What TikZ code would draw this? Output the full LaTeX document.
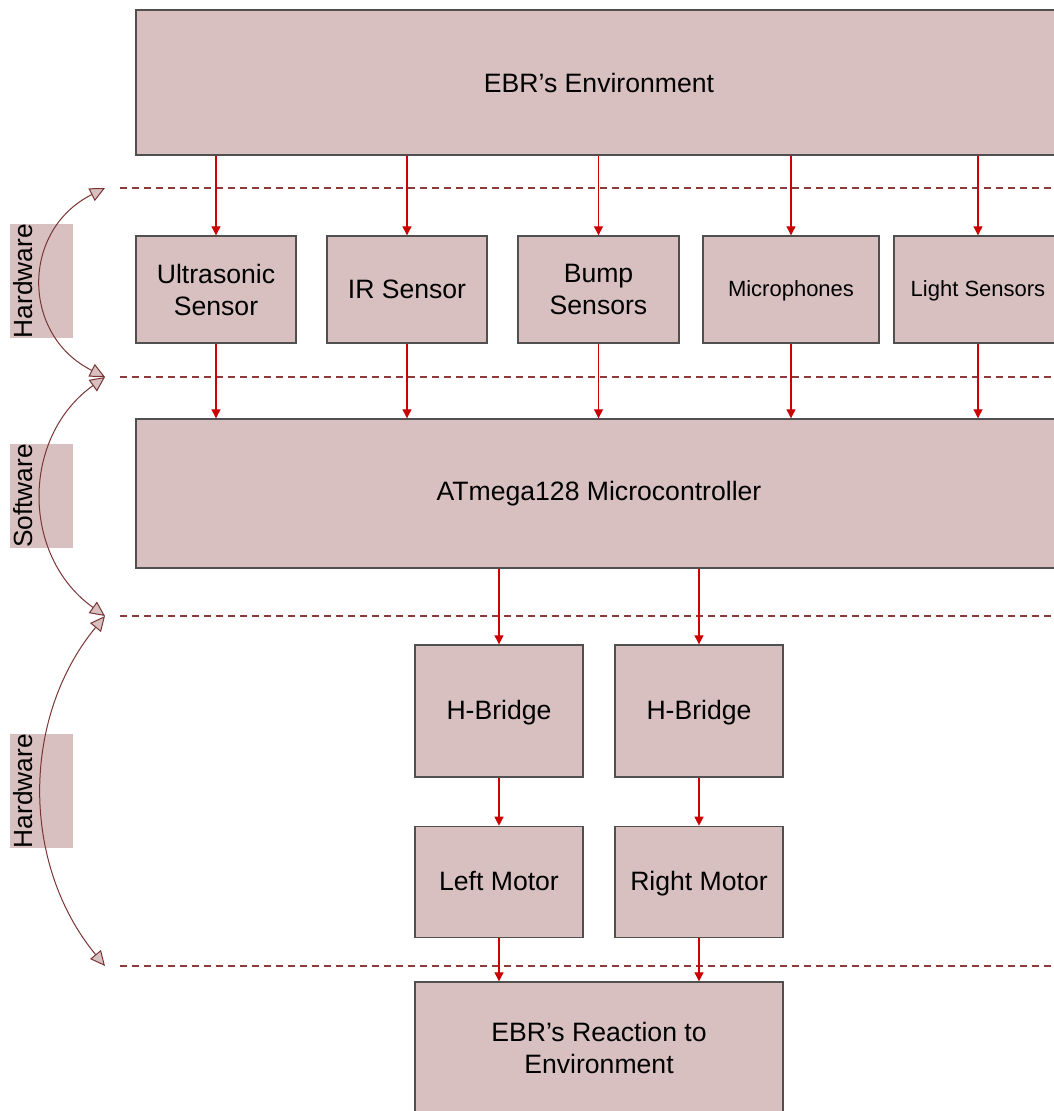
\documentclass[tikz,border=0pt]{standalone}
\usepackage{fontspec}
\setmainfont{Liberation Sans}
\usetikzlibrary{arrows.meta,positioning}
\definecolor{BlockFill}{HTML}{D7C0BF}
\definecolor{BlockEdge}{HTML}{505050}
\definecolor{FlowRed}{HTML}{CC0000}
\definecolor{LayerLine}{HTML}{8C3A3A}
\definecolor{LayerArc}{HTML}{7A3434}

\begin{document}
\begin{tikzpicture}[
  x=1pt, y=-1pt,
  blockbox/.style={
    draw=BlockEdge,
    fill=BlockFill,
    line width=1.4pt,
    align=center,
    inner sep=2pt,
    font=\fontsize{26.6}{32}\selectfont
  },
  smallbox/.style={blockbox, font=\fontsize{22}{26}\selectfont},
  layerbox/.style={fill=BlockFill, minimum width=63pt, inner sep=0pt},
  layertext/.style={rotate=90, anchor=north, inner sep=3pt, font=\fontsize{26.3}{30}\selectfont},
  flowarrow/.style={-{Triangle[length=9pt,width=9pt]}, line width=1.1pt, draw=FlowRed},
  layerline/.style={draw=LayerLine, line width=1.5pt, dash pattern=on 7pt off 5pt},
  layerarrow/.style={{Triangle[length=15pt,width=14pt,fill=BlockFill]}-{Triangle[length=15pt,width=14pt,fill=BlockFill]}, line width=1pt, draw=LayerArc}
]
\clip (0,0) rectangle (1054,1111);
% blocks
\node[blockbox, minimum width=926pt, minimum height=145pt] (env) at (599,82.5) {EBR's Environment};
\node[blockbox, minimum width=160pt, minimum height=107pt] (ult) at (216,289.5) {Ultrasonic\\Sensor};
\node[blockbox, minimum width=160pt, minimum height=107pt] (ir) at (407,289.5) {IR Sensor};
\node[blockbox, minimum width=161pt, minimum height=107pt] (bump) at (598.5,289.5) {Bump\\Sensors};
\node[smallbox, minimum width=176pt, minimum height=107pt, text depth=0.25em] (mic) at (791,289.5) {Microphones};
\node[smallbox, minimum width=168pt, minimum height=107pt, text depth=0.25em] (light) at (978,289.5) {Light Sensors};
\node[blockbox, minimum width=926pt, minimum height=149pt] (mcu) at (599,493.5) {ATmega128 Microcontroller};
\node[blockbox, minimum width=168pt, minimum height=132pt, text depth=0.25em] (hbl) at (499,711) {H-Bridge};
\node[blockbox, minimum width=168pt, minimum height=132pt, text depth=0.25em] (hbr) at (699,711) {H-Bridge};
\node[blockbox, minimum width=168pt, minimum height=111pt, text depth=0.25em, below=48pt of hbl] (lml) {Left Motor};
\node[blockbox, minimum width=168pt, minimum height=111pt, text depth=0.25em, below=48pt of hbr] (rmo) {Right Motor};
\node[blockbox, minimum width=368pt, minimum height=132pt] (react) at (599,1048) {EBR's Reaction to\\Environment};
% layer labels
\node[layerbox, minimum height=114pt] (hw1) at (41.5,281) {};
\node[layertext] at (hw1.west) {Hardware};
\node[layerbox, minimum height=104pt] (sw1) at (41.5,496) {};
\node[layertext] at (sw1.west) {Software};
\node[layerbox, minimum height=114pt] (hw2) at (41.5,791) {};
\node[layertext] at (hw2.west) {Hardware};
% layer borders
\coordinate (p1) at (105,188);
\coordinate (p2) at (105,377);
\coordinate (p3) at (105,616);
\coordinate (p4) at (105,966);
\foreach \p in {p1,p2,p3,p4}
  \draw[layerline] ([xshift=15pt]\p) -- (\p -| env.east);
\draw[layerarrow] (p1) .. controls +(-84,42) and +(-84,-42) .. (p2);
\draw[layerarrow] (p2) .. controls +(-84,60) and +(-84,-60) .. (p3);
\draw[layerarrow] (p3) .. controls +(-84,102) and +(-84,-102) .. (p4);
% signal flow
\foreach \s in {ult,ir,bump,mic,light} {
  \draw[flowarrow] (\s.north |- env.south) -- (\s.north);
  \draw[flowarrow] (\s.south) -- (\s.south |- mcu.north);
}
\foreach \h/\m in {hbl/lml,hbr/rmo} {
  \draw[flowarrow] (\h.north |- mcu.south) -- (\h.north);
  \draw[flowarrow] (\h) -- (\m);
  \draw[flowarrow] (\m.south) -- (\m.south |- react.north);
}
\end{tikzpicture}
\end{document}
